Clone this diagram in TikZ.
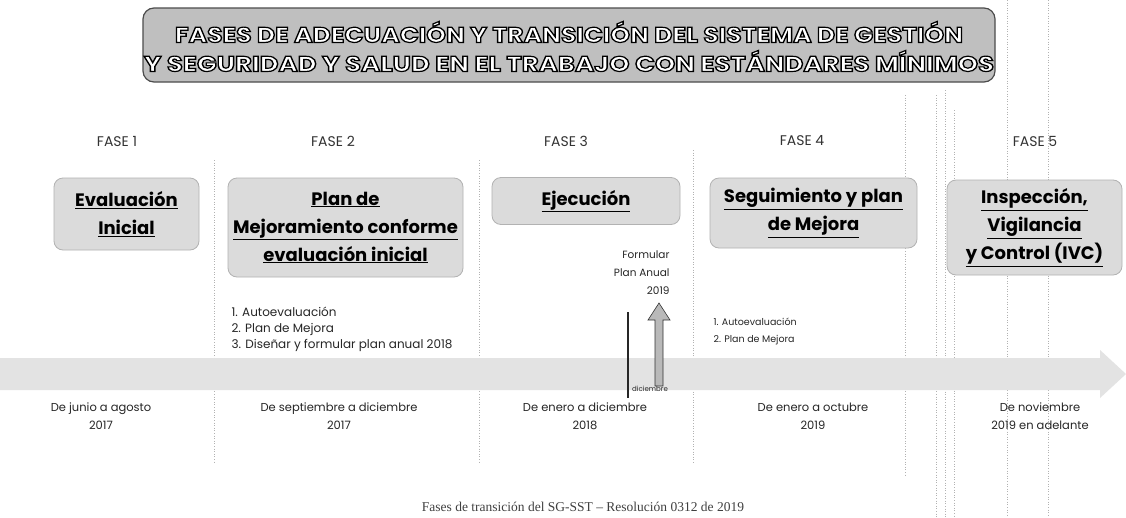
\documentclass[tikz,border=0pt]{standalone}
\usepackage{fontspec}
\setmainfont{Poppins}
\newfontfamily\capfont{Liberation Serif}
\usepackage{graphicx}
\newcommand{\titleone}{FASES DE ADECUACIÓN Y TRANSICIÓN DEL SISTEMA DE GESTIÓN}
\newcommand{\titletwo}{Y SEGURIDAD Y SALUD EN EL TRABAJO CON ESTÁNDARES MÍNIMOS}
\newcommand{\ulx}[1]{\underline{#1}}
\newcommand{\outl}[1]{\special{pdf:literal direct 2 Tr 0.55 w 0 0 0 RG}#1\special{pdf:literal direct 0 Tr}}
\tikzset{
  banner/.style={rounded corners=11pt, fill=gray!50, draw=black!70, line width=1.2pt},
  ttl/.style={inner sep=0pt, font=\bfseries},
  fase/.style={font=\fontsize{14}{16}\selectfont, text=black!80},
  phasebox/.style={rounded corners=9pt, fill=gray!28, draw=gray!60, line width=0.8pt,
    font=\bfseries\fontsize{18}{28}\selectfont, align=center, text=black},
  listtext/.style={font=\fontsize{12}{16}\selectfont, align=left, text=black!85},
  datetext/.style={font=\fontsize{11.5}{18}\selectfont, align=center, text=black!85},
  vdot/.style={gray!60, dotted, line width=0.6pt}
}
\begin{document}
\begin{tikzpicture}[x=1pt,y=-1pt]
\useasboundingbox (0,0) rectangle (1126,517);
\fill[white] (0,0) rectangle (1126,517);

% faint dotted guide lines
\foreach \x/\a/\b in {214/160/463, 479/160/463, 693/150/463, 905/95/475, 936/95/517, 945/90/517, 954/110/517, 1007/0/517, 1048/0/517}
  \draw[vdot] (\x,\a) -- (\x,\b);

% title banner
\node[banner, minimum width=852pt, minimum height=74pt] (banner) at (569,45) {};
\node[ttl, text=white] (ta) at (569,32) {\outl{\resizebox{788pt}{21pt}{\titleone}}};
\node[ttl, text=white] (tb) at (569,61) {\outl{\resizebox{850pt}{21pt}{\titletwo}}};

% phase labels
\node[fase] (f1) at (117,141) {FASE 1};
\node[fase] (f2) at (333,141) {FASE 2};
\node[fase] (f3) at (566,141) {FASE 3};
\node[fase] (f4) at (802,141) {FASE 4};
\node[fase] (f5) at (1035,141) {FASE 5};

% phase boxes
\node[phasebox, minimum width=145pt, minimum height=72pt] (b1) at (126.5,214) {\ulx{Evaluación}\\\ulx{Inicial}};
\node[phasebox, minimum width=235pt, minimum height=99pt] (b2) at (345.5,227.5) {\ulx{Plan de}\\\ulx{Mejoramiento conforme}\\\ulx{evaluación inicial}};
\node[phasebox, minimum width=188pt, minimum height=47pt] (b3) at (586,201) {\ulx{Ejecución}};
\node[phasebox, minimum width=207pt, minimum height=70pt] (b4) at (813.5,213) {\ulx{Seguimiento y plan}\\\ulx{de Mejora}};
\node[phasebox, minimum width=175pt, minimum height=95pt] (b5) at (1034.5,227.5) {\ulx{Inspección,}\\\ulx{Vigilancia}\\\ulx{y Control (IVC)}};

% lists
\node[listtext, anchor=west] (l2) at (228,329) {1. Autoevaluación\\2. Plan de Mejora\\3. Diseñar y formular plan anual 2018};
\node[listtext, anchor=west, font=\fontsize{9.5}{17}\selectfont] (l4) at (710,331) {1. Autoevaluación\\2. Plan de Mejora};
\node[listtext, align=right, anchor=east, font=\fontsize{10.5}{18}\selectfont] (form) at (673,273) {Formular\\Plan Anual\\2019};

% timeline band
\fill[gray!22] (0,358) -- (1100,358) -- (1100,350) -- (1126,374) -- (1100,398) -- (1100,390) -- (0,390) -- cycle;

% december marker and arrow
\coordinate (mtop) at (628,312);
\coordinate (mbot) at (628,398);
\draw[line width=2.5pt, black!85] (mtop) -- (mbot);
\fill[gray!55, draw=black!80, line width=0.6pt] (655,386) -- (655,320) -- (648,320) -- (659,303) -- (670,320) -- (663,320) -- (663,386) -- cycle;
\node[font=\fontsize{7}{8}\selectfont, anchor=west, inner sep=0pt, text=black!85] (dic) at (632,389) {diciembre};

% dates
\node[datetext] (d1) at (101,416) {De junio a agosto\\2017};
\node[datetext] (d2) at (339,416) {De septiembre a diciembre\\2017};
\node[datetext] (d3) at (585,416) {De enero a diciembre\\2018};
\node[datetext] (d4) at (813,416) {De enero a octubre\\2019};
\node[datetext] (d5) at (1040,416) {De noviembre\\2019 en adelante};

% caption
\node[font=\capfont\fontsize{13.5}{15}\selectfont, text=black!75] (cap) at (583,507) {Fases de transición del SG-SST – Resolución 0312 de 2019};
\end{tikzpicture}
\end{document}
